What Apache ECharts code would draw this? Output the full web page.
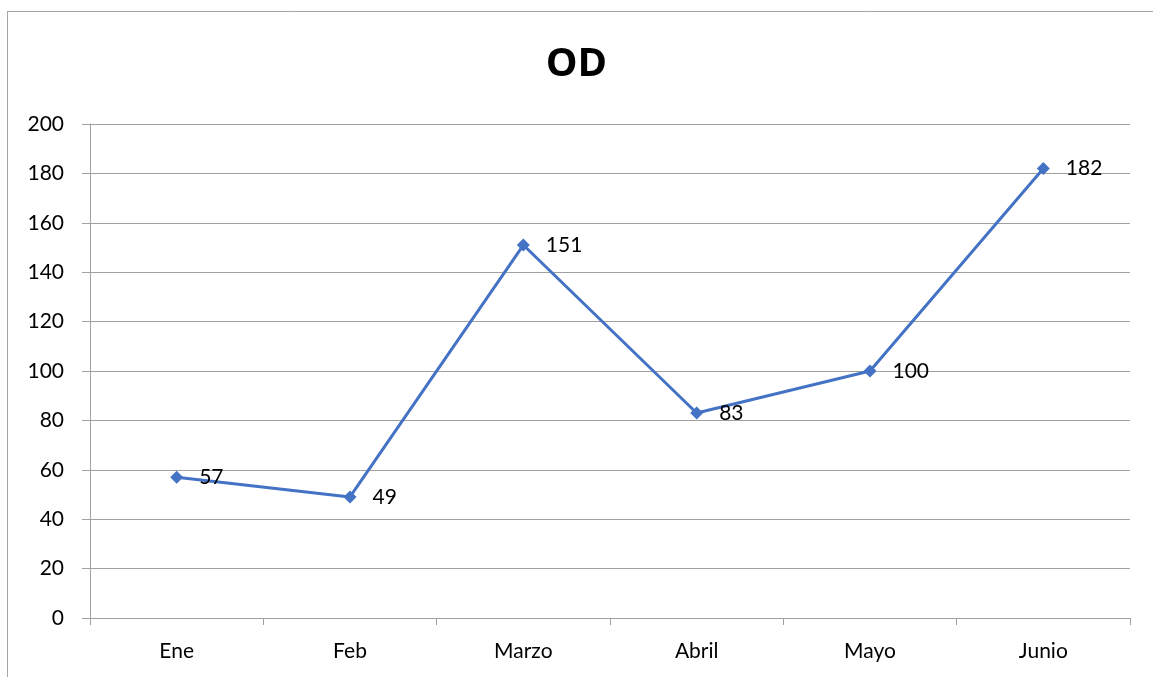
<!DOCTYPE html>
<html>
<head>
<meta charset="utf-8">
<script src="https://cdn.jsdelivr.net/npm/echarts@6/dist/echarts.min.js"></script>
<style>
  html, body { margin: 0; padding: 0; background: #fff; }
  #chart { width: 1153px; height: 677px; }
</style>
</head>
<body>
<div id="chart"></div>
<script>
var months = ['Ene', 'Feb', 'Marzo', 'Abril', 'Mayo', 'Junio'];
var odValues = [57, 49, 151, 83, 100, 182];
var yTicks = [0, 20, 40, 60, 80, 100, 120, 140, 160, 180, 200];

var chart = echarts.init(document.getElementById('chart'));

var fontFam = 'Lato, "Open Sans", sans-serif';
var gridGray = '#a0a0a0';

var option = {
    backgroundColor: '#fff',
    animation: false,
    title: {
        text: 'OD',
        left: 'center',
        top: 40,
        textStyle: { fontFamily: '"Open Sans", sans-serif', fontSize: 40, fontWeight: 'bold', color: '#000' }
    },
    graphic: [
        { type: 'line', shape: { x1: 7.5, y1: 11, x2: 7.5, y2: 677 }, style: { stroke: '#a6a6a6', lineWidth: 1 } },
        { type: 'line', shape: { x1: 7, y1: 11.5, x2: 1153, y2: 11.5 }, style: { stroke: '#a6a6a6', lineWidth: 1 } }
    ],
    grid: { left: 90, right: 23, top: 124, bottom: 59 },
    xAxis: {
        type: 'category',
        data: months,
        boundaryGap: true,
        axisLine: { lineStyle: { color: gridGray, width: 1 } },
        axisTick: { show: true, length: 7, lineStyle: { color: gridGray } },
        axisLabel: { margin: 23, fontFamily: fontFam, fontSize: 21, color: '#000' }
    },
    yAxis: {
        type: 'value',
        min: 0,
        max: 200,
        interval: 20,
        axisLine: { show: true, lineStyle: { color: gridGray, width: 1 } },
        axisTick: { show: true, length: 8, lineStyle: { color: gridGray } },
        axisLabel: {
            margin: 26, fontFamily: fontFam, fontSize: 21, color: '#000',
            formatter: function (v) { return yTicks.indexOf(v) >= 0 ? String(v) : ''; }
        },
        splitLine: { show: true, lineStyle: { color: gridGray, width: 1 } }
    },
    series: [{
        name: 'OD',
        type: 'line',
        data: odValues,
        symbol: 'diamond',
        symbolSize: 13,
        lineStyle: { color: '#4472C4', width: 3 },
        itemStyle: { color: '#4472C4' },
        label: {
            show: true,
            position: 'right',
            distance: 16,
            fontFamily: fontFam,
            fontSize: 21,
            color: '#000'
        }
    }]
};

chart.setOption(option);
</script>
</body>
</html>
